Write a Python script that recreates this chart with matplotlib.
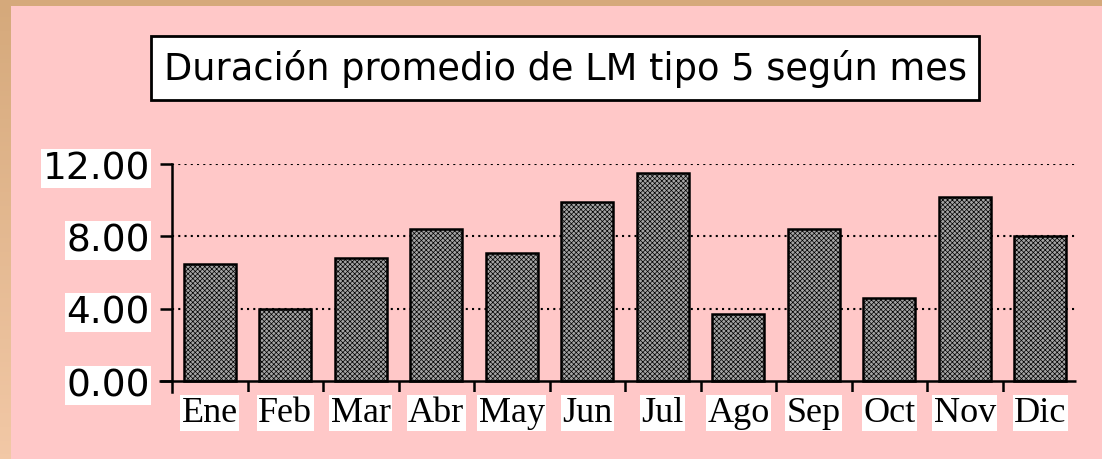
import numpy as np
import matplotlib
matplotlib.use('Agg')
import matplotlib.pyplot as plt

# Datos
meses = ['Ene', 'Feb', 'Mar', 'Abr', 'May', 'Jun', 'Jul', 'Ago', 'Sep', 'Oct', 'Nov', 'Dic']
duracion = [6.5, 4.0, 6.8, 8.4, 7.1, 9.9, 11.5, 3.7, 8.4, 4.6, 10.2, 8.0]
yticks = [0, 4, 8, 12]
ytick_labels = ['0.00', '4.00', '8.00', '12.00']
titulo = 'Duración promedio de LM tipo 5 según mes'

pink = '#FFC8C8'
plt.rcParams['hatch.linewidth'] = 0.5

fig = plt.figure(figsize=(11.02, 4.6), dpi=100, facecolor=pink)

# borde superior e izquierdo
top = fig.add_axes([0, 1 - 7 / 460, 1, 7 / 460])
top.axis('off')
top.add_patch(plt.Rectangle((0, 0), 1, 1, color='#D5A97B', transform=top.transAxes))
left = fig.add_axes([0, 0, 11 / 1102, 1])
left.axis('off')
grad = np.linspace(0, 1, 100).reshape(-1, 1)
c_top = np.array([0xD5, 0xA9, 0x7B]) / 255
c_bot = np.array([0xF2, 0xC8, 0xA6]) / 255
img = c_top + (c_bot - c_top) * grad[:, :, None]
left.imshow(img, aspect='auto', extent=[0, 1, 0, 1], origin='upper')

ax = fig.add_axes([172 / 1102, 67 / 460, 906 / 1102, 228 / 460])
ax.set_facecolor('none')
x = np.arange(len(meses))
ax.bar(x, duracion, width=0.69, color='#a4a4a4', edgecolor='black',
       linewidth=1.8, hatch='xxxxxxx', zorder=3)

ax.set_xlim(-0.5, 11.5)
ax.set_ylim(-0.6, 12)
for s in ['top', 'right', 'bottom']:
    ax.spines[s].set_visible(False)
ax.spines['left'].set_linewidth(1.8)
ax.spines['left'].set_bounds(-0.6, 12)

# lineas de cuadricula punteadas
for yv in yticks[1:]:
    ax.axhline(yv, color='black', linestyle=(0, (1, 2)), linewidth=1.5, zorder=1)
ax.hlines(0, -0.67, 11.47, color='black', linewidth=1.8, clip_on=False, zorder=4)
ax.vlines(np.arange(0.5, 11, 1), -0.6, 0, color='black', linewidth=1.8, zorder=4)

ax.set_yticks(yticks)
ax.set_yticklabels(ytick_labels, fontsize=27, family='DejaVu Sans')
ax.tick_params(axis='y', length=9, width=1.8, pad=7)
ax.set_xticks(x)
ax.set_xticklabels(meses, fontsize=26, family='Liberation Serif')
ax.tick_params(axis='x', length=0, pad=3)
for lab in ax.get_yticklabels() + ax.get_xticklabels():
    lab.set_bbox(dict(facecolor='white', edgecolor='none', pad=1))

fig.text(565 / 1102, 1 - 69 / 460, titulo, fontsize=26.5, family='DejaVu Sans',
         ha='center', va='center',
         bbox=dict(boxstyle='square,pad=0.35', facecolor='white', edgecolor='black', linewidth=2))

plt.savefig('out.png', dpi=100, facecolor=pink)
